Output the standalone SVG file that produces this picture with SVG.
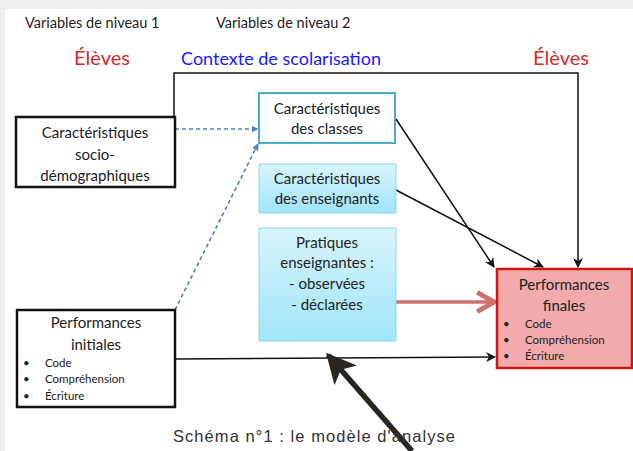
<svg xmlns="http://www.w3.org/2000/svg" width="633" height="451" viewBox="0 0 633 451">
<defs>
<style>
.t{font-family:Lato,"Open Sans","Liberation Sans",sans-serif;fill:#222;}
.box{stroke:#111;stroke-width:2.5;fill:#fff;}
.c{text-anchor:middle;font-size:15px;}
.b{font-size:11.5px;}
.h{font-size:20px;text-anchor:middle;}
.conn{fill:none;stroke:#111;stroke-width:1.5;}
.dash{fill:none;stroke:#4f81c6;stroke-width:1.6;stroke-dasharray:4,3;}
</style>
<linearGradient id="blue" x1="0" y1="0" x2="0" y2="1">
<stop offset="0" stop-color="#d8f4fc"/>
<stop offset="1" stop-color="#9fe5f9"/>
</linearGradient>
<marker id="ab" viewBox="0 0 10 10" refX="9" refY="5" markerWidth="7" markerHeight="7" markerUnits="userSpaceOnUse" orient="auto"><path d="M0,0 L10,5 L0,10 z" fill="#4f81c6"/></marker>
<marker id="ak" viewBox="0 0 10 10" refX="9" refY="5" markerWidth="10" markerHeight="10" markerUnits="userSpaceOnUse" orient="auto"><path d="M0,0 L10,5 L0,10 L3,5 z" fill="#111"/></marker>
<marker id="ar" viewBox="0 0 20 20" refX="17" refY="10" markerWidth="24" markerHeight="24" markerUnits="userSpaceOnUse" orient="auto"><path d="M3,2 L17,10 L3,18" fill="none" stroke="#d0706e" stroke-width="4"/></marker>
<marker id="ad" viewBox="0 0 10 10" refX="9" refY="5" markerWidth="30" markerHeight="30" markerUnits="userSpaceOnUse" orient="auto"><path d="M0,0 L10,5 L0,10 L2.5,5 z" fill="#2a251f"/></marker>
</defs>
<rect x="0" y="0" width="633" height="451" fill="#eeeeee"/>
<rect x="5" y="9" width="628" height="442" fill="#ffffff"/>

<g id="headers">
<text class="t" x="25" y="28" font-size="14.5">Variables de niveau 1</text>
<text class="t" x="216" y="28" font-size="14.5">Variables de niveau 2</text>
<text class="t h" x="102" y="65" style="fill:#d42b2b">Élèves</text>
<text class="t h" x="281" y="65" style="fill:#1a1aff;font-size:18px">Contexte de scolarisation</text>
<text class="t h" x="561" y="65" style="fill:#d42b2b">Élèves</text>
</g>

<g id="connectors">
<polyline class="conn" points="174,117 174,73 578,73 578,267" marker-end="url(#ak)"/>
<line class="dash" x1="175" y1="129" x2="258" y2="129" marker-end="url(#ab)"/>
<line class="dash" x1="175" y1="310" x2="258" y2="144" marker-end="url(#ab)"/>
<line class="conn" x1="396" y1="119" x2="494" y2="267" marker-end="url(#ak)"/>
<line class="conn" x1="396" y1="190" x2="543" y2="267" marker-end="url(#ak)"/>
<line x1="396" y1="302" x2="494" y2="302" stroke="#d0706e" stroke-width="3.5" marker-end="url(#ar)"/>
<line class="conn" x1="175" y1="359" x2="495" y2="357" marker-end="url(#ak)"/>
<line x1="412" y1="451" x2="328" y2="355" stroke="#2a251f" stroke-width="5.5" marker-end="url(#ad)"/>
</g>

<g id="socio">
<rect class="box" x="16" y="117" width="159" height="70"/>
<text class="t c" x="95" y="138" font-size="16">Caractéristiques</text>
<text class="t c" x="95" y="160" font-size="16">socio-</text>
<text class="t c" x="95" y="181" font-size="16">démographiques</text>
</g>

<g id="classes">
<rect x="259" y="93" width="136" height="50" fill="#fff" stroke="#4bacc6" stroke-width="2"/>
<text class="t c" x="327" y="114">Caractéristiques</text>
<text class="t c" x="327" y="134">des classes</text>
</g>

<g id="enseignants">
<rect x="259" y="164" width="137" height="49" fill="url(#blue)" stroke="#8fd5ea" stroke-width="1"/>
<text class="t c" x="327" y="184">Caractéristiques</text>
<text class="t c" x="327" y="204">des enseignants</text>
</g>

<g id="pratiques">
<rect x="259" y="228" width="137" height="113" fill="url(#blue)" stroke="#8fd5ea" stroke-width="1"/>
<text class="t c" x="327" y="248">Pratiques</text>
<text class="t c" x="327" y="268">enseignantes :</text>
<text class="t c" x="327" y="289">- observées</text>
<text class="t c" x="327" y="310">- déclarées</text>
</g>

<g id="finales">
<rect x="497" y="269" width="135" height="99" fill="#f3aaaa" stroke="#cc1515" stroke-width="2.5"/>
<text class="t c" x="564" y="290" font-size="16">Performances</text>
<text class="t c" x="564" y="311" font-size="16">finales</text>
<text class="t b" x="503" y="328">•</text>
<text class="t b" x="525" y="328">Code</text>
<text class="t b" x="503" y="344">•</text>
<text class="t b" x="525" y="344">Compréhension</text>
<text class="t b" x="503" y="360">•</text>
<text class="t b" x="525" y="360">Écriture</text>
</g>

<g id="initiales">
<rect class="box" x="17" y="310" width="158" height="97"/>
<text class="t c" x="96" y="328" font-size="16">Performances</text>
<text class="t c" x="96" y="350" font-size="16">initiales</text>
<text class="t b" x="23" y="367">•</text>
<text class="t b" x="45" y="367">Code</text>
<text class="t b" x="23" y="383">•</text>
<text class="t b" x="45" y="383">Compréhension</text>
<text class="t b" x="23" y="400">•</text>
<text class="t b" x="45" y="400">Écriture</text>
</g>

<text x="173" y="442" font-family="Liberation Sans,Arial,sans-serif" font-size="16.5" fill="#333" textLength="282">Schéma n°1 : le modèle d'analyse</text>
</svg>
